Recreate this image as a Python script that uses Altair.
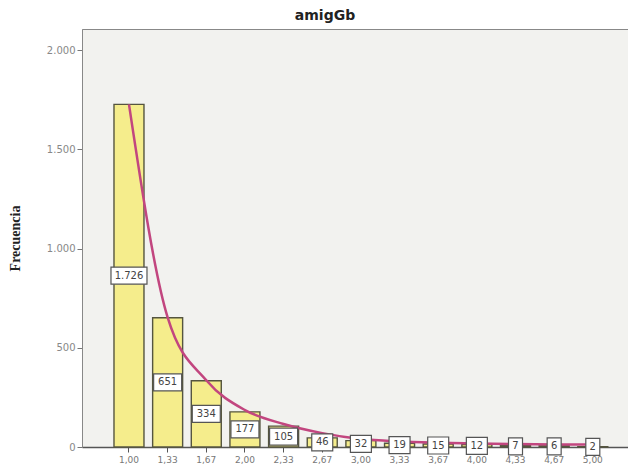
import altair as alt
import pandas as pd

categories = ["1,00", "1,33", "1,67", "2,00", "2,33", "2,67", "3,00",
              "3,33", "3,67", "4,00", "4,33", "4,67", "5,00"]
counts = [1726, 651, 334, 177, 105, 46, 32, 19, 15, 12, 7, 6, 2]
curve = [1726, 653, 336, 186, 116, 70, 40, 28, 22, 18, 15, 13, 12]
y_ticks = [0, 500, 1000, 1500, 2000]

df = pd.DataFrame({"cat": categories, "count": counts, "curve": curve})

xenc = alt.X("cat:O", sort=categories, title=None,
             scale=alt.Scale(paddingInner=0.224, paddingOuter=0.675, align=0.613),
             axis=alt.Axis(labelAngle=0, tickSize=5, labelPadding=3,
                           labelFont="DejaVu Sans", labelFontSize=9, labelColor="#777",
                           tickColor="#555", domainColor="#555", domainWidth=1.5))
yscale = alt.Scale(domain=[0, 2106], nice=False, zero=True)

bars = alt.Chart(df).mark_bar(fill="#f5ed8c", stroke="#55553f", strokeWidth=1.4).encode(
    x=xenc,
    y=alt.Y("count:Q", scale=yscale, title="Frecuencia",
            axis=alt.Axis(values=y_ticks, grid=False, tickSize=5, labelPadding=2,
                          labelExpr="replace(format(datum.value, ',d'), ',', '.')",
                          labelFont="DejaVu Sans", labelFontSize=10, labelColor="#888",
                          tickColor="#777", domainColor="#888",
                          titleFont="Liberation Serif", titleFontSize=14,
                          titleFontWeight="bold", titleColor="#222", titlePadding=24)),
)

line = alt.Chart(df).mark_line(color="#c2467f", strokeWidth=2.5, interpolate="monotone").encode(
    x=alt.X("cat:O", sort=categories),
    y=alt.Y("curve:Q", scale=yscale),
)

label_base = alt.Chart(df).transform_calculate(
    label="replace(format(datum.count, ',d'), ',', '.')",
    mid="datum.count / 2",
).transform_calculate(
    n="toString(length(datum.label))"
)

box_paths = [
    "M-0.389,-0.472H0.389V0.472H-0.389Z",
    "M-0.583,-0.472H0.583V0.472H-0.583Z",
    "M-0.778,-0.472H0.778V0.472H-0.778Z",
    "M-1,-0.472H1V0.472H-1Z",
]

boxes = label_base.mark_point(filled=True, fill="white", stroke="#555", strokeWidth=1.2,
                              opacity=1, size=1296).encode(
    x=alt.X("cat:O", sort=categories),
    y=alt.Y("mid:Q", scale=yscale),
    shape=alt.Shape("n:N", scale=alt.Scale(domain=["1", "2", "3", "5"], range=box_paths),
                    legend=None),
)

texts = label_base.mark_text(font="DejaVu Sans", fontSize=10, color="#444",
                             baseline="middle", align="center").encode(
    x=alt.X("cat:O", sort=categories),
    y=alt.Y("mid:Q", scale=yscale),
    text="label:N",
)

chart = alt.layer(bars, line, boxes, texts).properties(
    width=546, height=418,
    title=alt.TitleParams("amigGb", font="DejaVu Sans", fontSize=14, fontWeight="bold",
                          color="#222", anchor="middle", dx=-30, offset=6),
    autosize=alt.AutoSizeParams(type="none"),
    padding={"left": 82, "top": 29, "right": 0, "bottom": 25},
    background="white",
).configure_view(fill="#f2f2ef", stroke="#888", strokeWidth=1)

chart.save("out.html", embed_options={"renderer": "svg", "actions": False})
